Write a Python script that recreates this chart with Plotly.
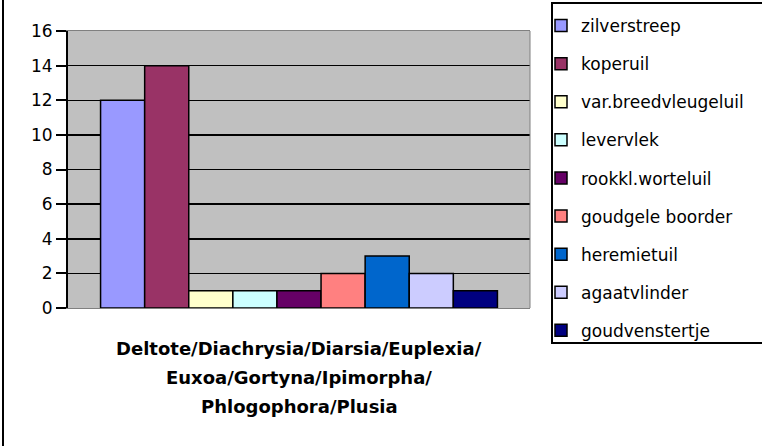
import plotly.graph_objects as go

categories = ["Deltote/Diachrysia/Diarsia/Euplexia/<br>Euxoa/Gortyna/Ipimorpha/<br>Phlogophora/Plusia"]
series_names = ["zilverstreep", "koperuil", "var.breedvleugeluil", "levervlek",
                "rookkl.worteluil", "goudgele boorder", "heremietuil",
                "agaatvlinder", "goudvenstertje"]
series_values = [12, 14, 1, 1, 1, 2, 3, 2, 1]
series_colors = ["#9999FF", "#993366", "#FFFFCC", "#CCFFFF", "#660066",
                 "#FF8080", "#0066CC", "#CCCCFF", "#000080"]
y_ticks = [0, 2, 4, 6, 8, 10, 12, 14, 16]

W, H = 762, 446
L, R, T, B = 68, 530, 31, 308
pw, ph = R - L, B - T

def px(x):
    return (x - L) / pw

def py(y):
    return (B - y) / ph

FONT = "DejaVu Sans, Arial, sans-serif"

fig = go.Figure()
for i, (name, val, col) in enumerate(zip(series_names, series_values, series_colors)):
    fig.add_trace(go.Bar(
        x=[categories[0]], y=[val], name=name,
        marker=dict(color=col, line=dict(color="black", width=1.5)),
        legendgroup=f"g{i}",
    ))

def pline(x0, y0, x1, y1, color="black", width=2):
    return dict(type="line", xref="paper", yref="paper",
                x0=px(x0), x1=px(x1), y0=py(y0), y1=py(y1),
                line=dict(color=color, width=width))

# legend frame: open on the right side (cut off by the picture edge)
frame_path = (f"M {px(W)},{py(3)} L {px(552)},{py(3)} "
              f"L {px(552)},{py(343)} L {px(W)},{py(343)}")

fig.update_layout(
    width=W, height=H,
    margin=dict(l=L, r=W - R, t=T, b=H - B, autoexpand=False),
    paper_bgcolor="white",
    plot_bgcolor="#C0C0C0",
    barmode="group", bargap=0.141, bargroupgap=0,
    font=dict(family=FONT, size=17, color="black"),
    showlegend=True,
    legend=dict(
        x=px(541), y=py(8), xanchor="left", yanchor="top",
        bgcolor="rgba(0,0,0,0)", borderwidth=0, bordercolor="rgba(0,0,0,0)",
        traceorder="grouped", tracegroupgap=13,
        maxheight=2000,
        font=dict(family=FONT, size=17, color="black"),
    ),
    xaxis=dict(
        type="category", showticklabels=False, showgrid=False,
        showline=True, linecolor="#808080", linewidth=1, mirror=True,
        ticks="",
    ),
    yaxis=dict(
        range=[0, 16], tickvals=y_ticks, ticktext=[str(v) for v in y_ticks],
        showgrid=True, gridcolor="black", gridwidth=1.5,
        showline=True, linecolor="black", linewidth=2,
        ticks="outside", ticklen=10, tickwidth=2, tickcolor="black",
        zeroline=False,
        tickfont=dict(family=FONT, size=17, color="black"),
    ),
    shapes=[
        # right edge of plot area
        dict(type="line", xref="paper", yref="paper", x0=1, x1=1, y0=0, y1=1,
             line=dict(color="#808080", width=1)),
        # outer chart border (left edge visible)
        pline(3, -5, 3, H + 5),
        # legend frame
        dict(type="path", xref="paper", yref="paper", path=frame_path,
             line=dict(color="black", width=2), fillcolor="rgba(0,0,0,0)"),
    ],
)

# category label lines under the axis
lines = categories[0].split("<br>")
for j, line in enumerate(lines):
    fig.add_annotation(
        x=categories[0], xref="x", y=0, yref="paper",
        yanchor="middle", yshift=-(348 - B) - j * 29,
        text=line, showarrow=False,
        font=dict(family=FONT, size=18, color="black", weight="bold"),
    )

fig.write_html("out.html", config={"displayModeBar": False, "staticPlot": True},
               post_script="document.body.style.margin='0px';")
